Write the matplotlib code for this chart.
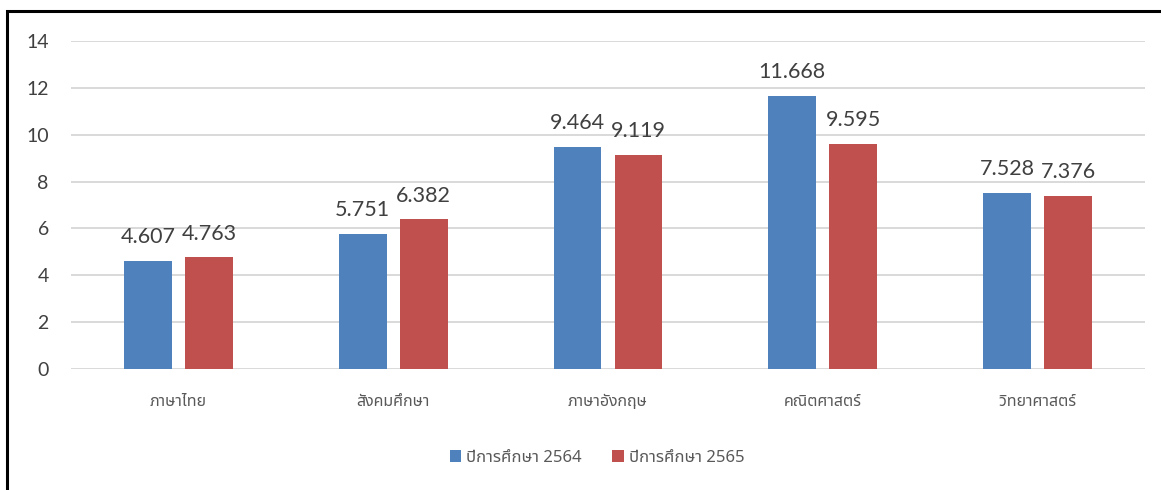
import numpy as np
import matplotlib
matplotlib.use("Agg")
from matplotlib import pyplot as plt
from matplotlib.patches import Rectangle

subjects = ["ภาษาไทย", "สังคมศึกษา", "ภาษาอังกฤษ", "คณิตศาสตร์", "วิทยาศาสตร์"]
year_2564 = [4.607, 5.751, 9.464, 11.668, 7.528]
year_2565 = [4.763, 6.382, 9.119, 9.595, 7.376]
series_names = ["ปีการศึกษา 2564", "ปีการศึกษา 2565"]
y_ticks = [0, 2, 4, 6, 8, 10, 12, 14]

NUM_FONT = ["Lato", "DejaVu Sans"]
THAI_FONT = ["Noto Sans Thai", "Noto Sans", "DejaVu Sans"]

fig = plt.figure(figsize=(11.61, 4.9), dpi=100)
ax = fig.add_axes([71 / 1161, 1 - 369 / 490, 1074 / 1161, 328 / 490])

# outer frame, open at the right and bottom like the cropped screenshot
fig.add_artist(Rectangle((7 / 1161, -0.1), 1.2, 1 - 11 / 490 + 0.1,
                         transform=fig.transFigure, fill=False,
                         edgecolor="black", linewidth=2.2, zorder=10))

x = np.arange(len(subjects))
width = 0.223
off = 0.142
b1 = ax.bar(x - off, year_2564, width, color="#4F81BD", label=series_names[0], zorder=3)
b2 = ax.bar(x + off, year_2565, width, color="#C0504D", label=series_names[1], zorder=3)

for bars, vals in ((b1, year_2564), (b2, year_2565)):
    for rect, v in zip(bars, vals):
        ax.annotate(f"{v:.3f}", (rect.get_x() + rect.get_width() / 2, v),
                    xytext=(0, 10), textcoords="offset points",
                    ha="center", va="bottom", fontsize=15.5,
                    color="#404040", family=NUM_FONT)

ax.set_xlim(-0.5, len(subjects) - 0.5)
ax.set_ylim(0, 14)
ax.set_yticks(y_ticks)
ax.set_yticklabels([str(t) for t in y_ticks], family=NUM_FONT, fontsize=14, color="#404040")
ax.set_xticks(x)
ax.set_xticklabels(subjects, family=THAI_FONT, fontsize=11.5, color="#595959")
ax.tick_params(axis="y", length=0, pad=16)
ax.tick_params(axis="x", length=0, pad=18)
ax.grid(axis="y", color="#d9d9d9", linewidth=1.4, zorder=0)
for s in ax.spines.values():
    s.set_visible(False)

leg = fig.legend(loc="center", bbox_to_anchor=(597 / 1161, 1 - 458 / 490), ncol=2,
                 frameon=False, handlelength=0.7, handleheight=0.7,
                 handletextpad=0.3, columnspacing=1.8,
                 prop={"family": THAI_FONT, "size": 12})
for t in leg.get_texts():
    t.set_color("#595959")

fig.savefig("out.png", dpi=100)
